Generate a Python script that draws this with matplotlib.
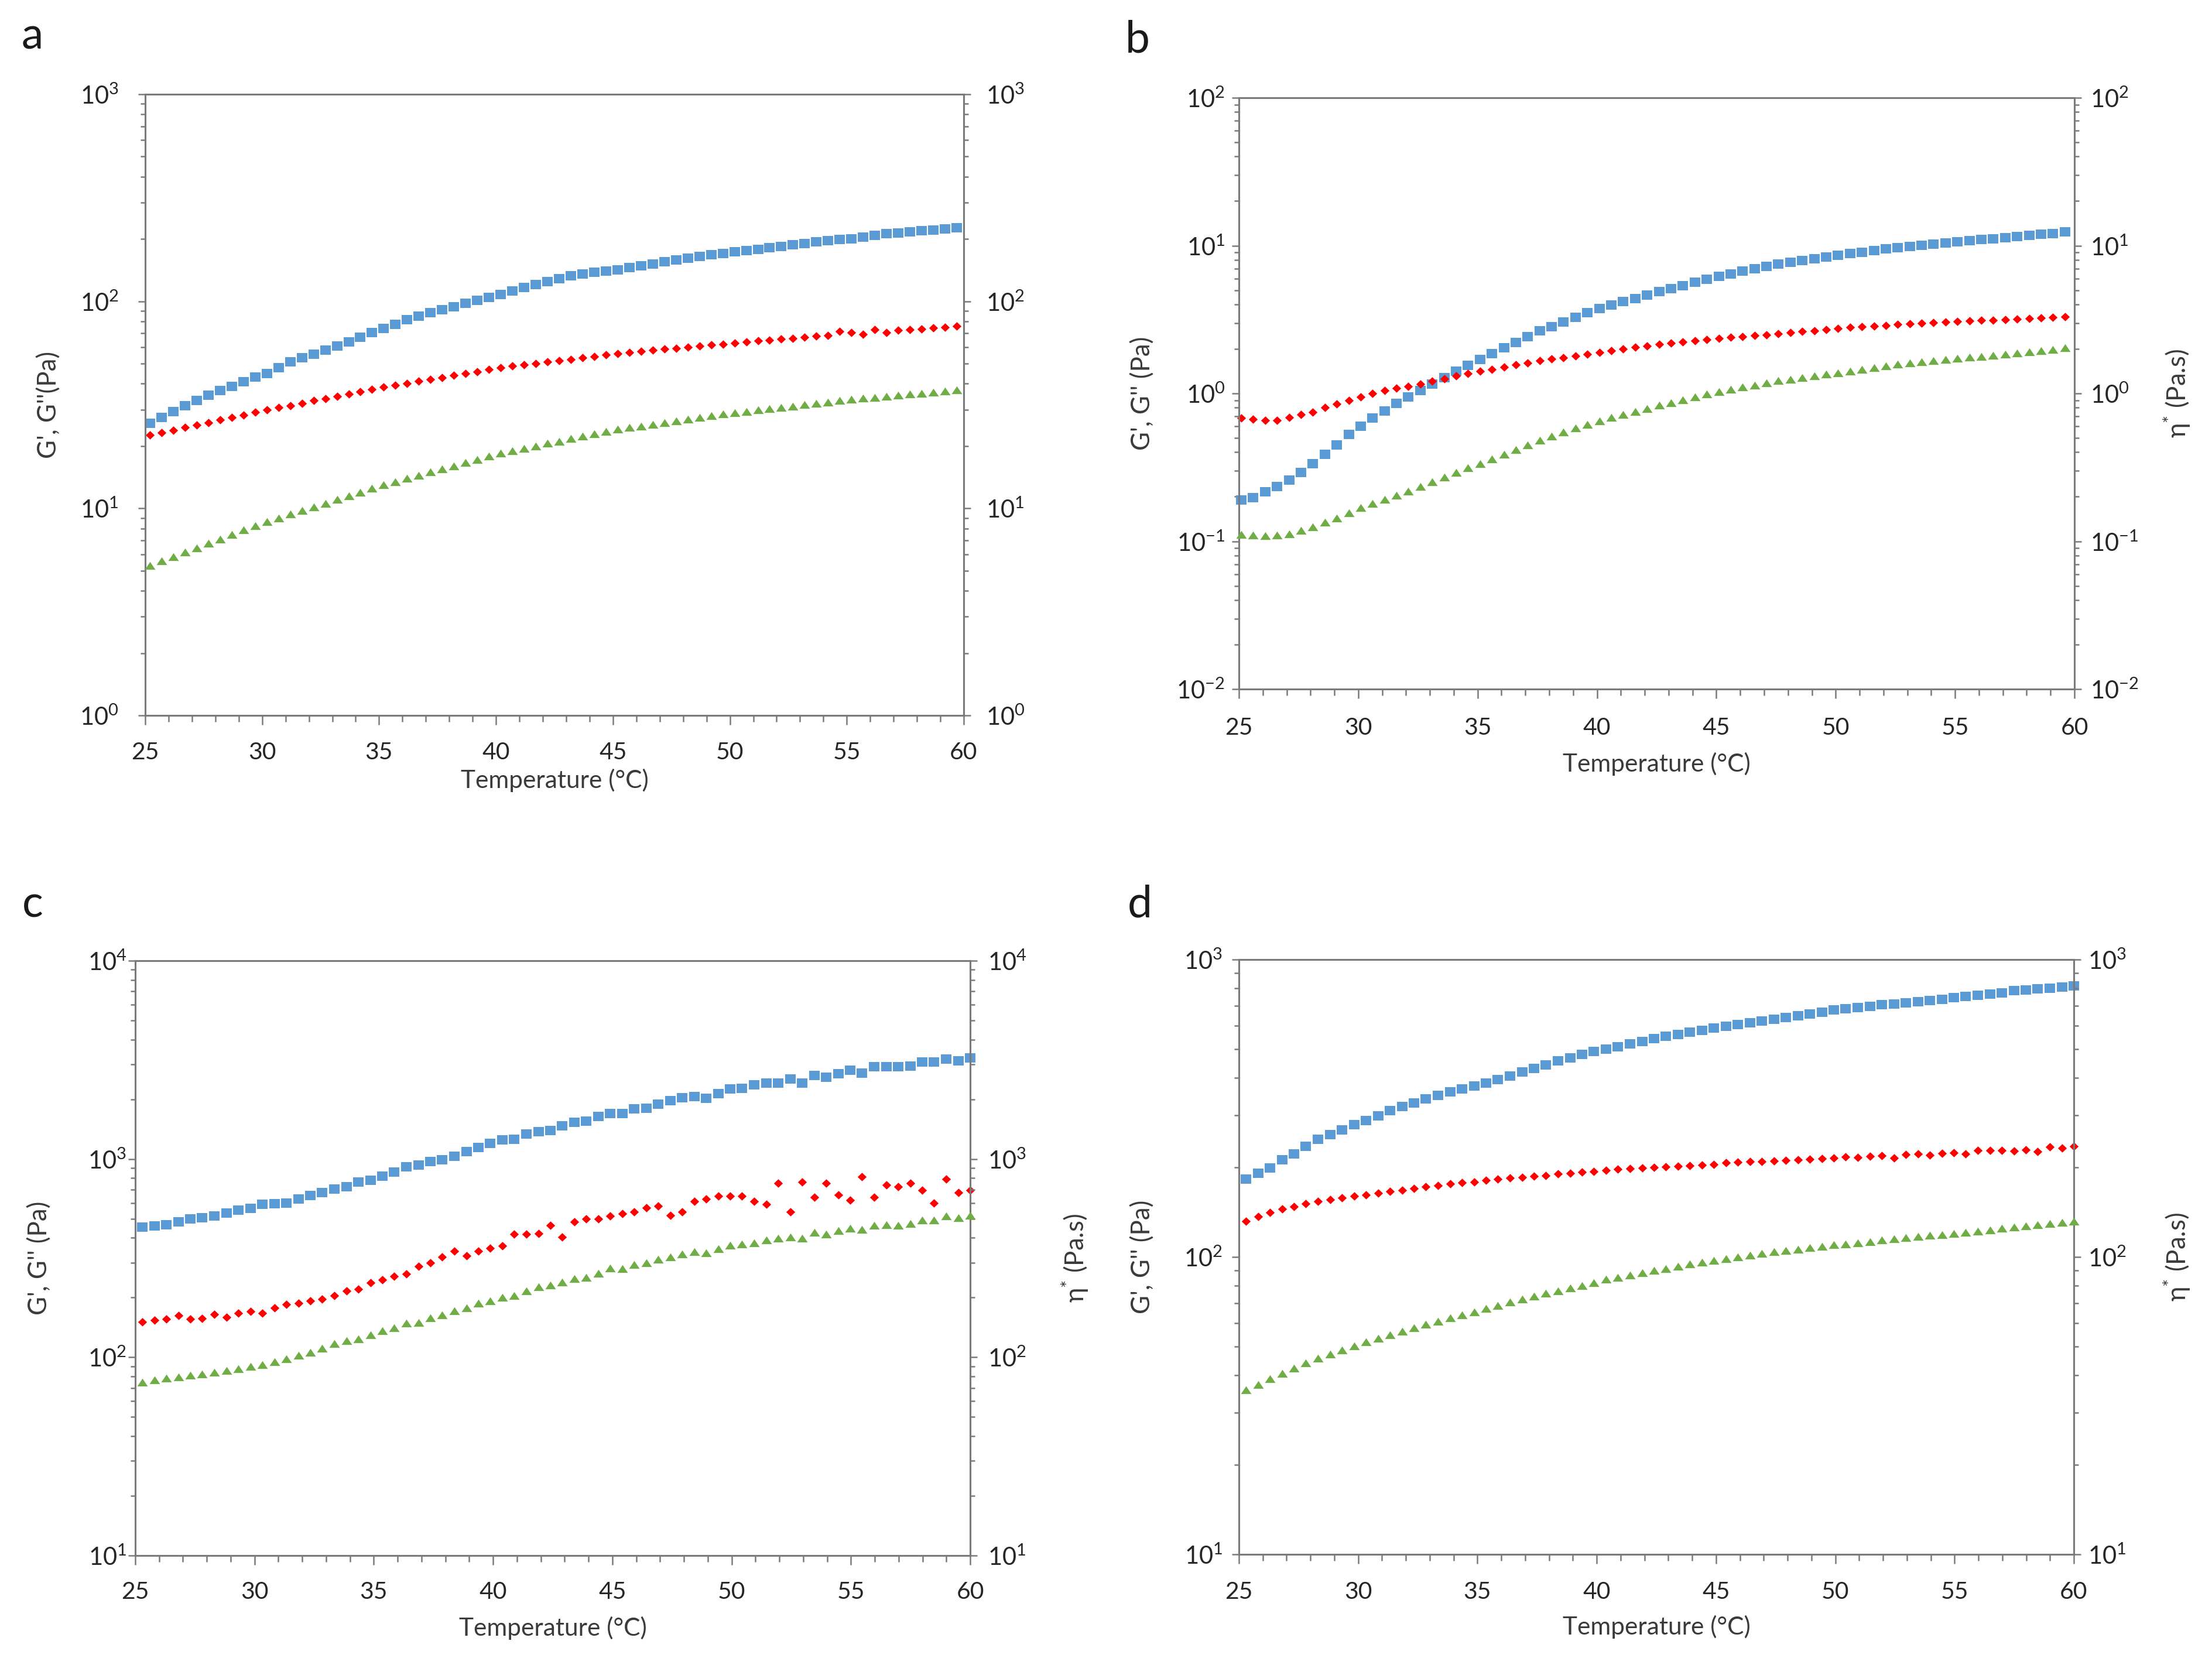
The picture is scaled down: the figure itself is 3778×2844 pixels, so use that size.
import numpy as np
import matplotlib
matplotlib.use("Agg")
import matplotlib.pyplot as plt
from matplotlib.ticker import LogLocator, NullFormatter, MultipleLocator

plt.rcParams['font.family'] = ['Lato', 'DejaVu Sans']
plt.rcParams['mathtext.fontset'] = 'custom'
plt.rcParams['mathtext.rm'] = 'Lato'
plt.rcParams['mathtext.it'] = 'Lato:italic'
plt.rcParams['mathtext.bf'] = 'Lato:bold'

# ---------------- data ----------------
temp_a = np.round(25.2 + 0.5 * np.arange(70), 2)
gp_a = [25.7, 27.5, 29.4, 31.4, 33.2, 35.1, 37.0, 38.9, 40.9, 43.0,
        44.9, 47.9, 50.9, 53.3, 55.7, 58.2, 61.0, 63.8, 67.0, 70.8,
        74.1, 77.6, 81.3, 84.9, 87.9, 91.2, 94.4, 97.7, 100.9, 104.5,
        108.1, 112.2, 116.7, 120.5, 124.5, 128.8, 133.0, 135.5, 138.0, 140.3,
        142.2, 145.5, 148.6, 151.7, 154.9, 158.1, 161.4, 164.4, 167.9, 170.6,
        173.4, 175.8, 178.2, 181.1, 184.1, 187.5, 190.5, 193.6, 196.3, 198.6,
        200.9, 204.2, 208.0, 211.8, 214.3, 216.8, 219.3, 221.3, 223.9, 226.5]
gpp_a = [22.6, 23.2, 23.9, 24.6, 25.3, 26.0, 26.7, 27.5, 28.3, 29.1,
         29.9, 30.7, 31.4, 32.2, 33.1, 33.9, 34.8, 35.7, 36.6, 37.5,
         38.5, 39.3, 40.2, 41.1, 42.0, 42.9, 43.8, 44.8, 45.8, 46.8,
         47.8, 48.6, 49.3, 50.1, 50.9, 51.7, 52.5, 53.4, 54.2, 55.1,
         56.0, 56.7, 57.3, 58.0, 58.7, 59.4, 60.1, 60.8, 61.5, 62.2,
         63.0, 63.7, 64.3, 65.0, 65.7, 66.4, 67.1, 67.8, 68.5, 71.5,
         70.5, 69.5, 73.0, 70.5, 72.4, 73.0, 73.6, 74.3, 75.0, 75.7]
eta_a = [5.30, 5.57, 5.85, 6.14, 6.45, 6.78, 7.12, 7.48, 7.86, 8.25,
         8.62, 8.98, 9.36, 9.75, 10.16, 10.58, 11.03, 11.49, 11.97, 12.47,
         13.0, 13.47, 13.95, 14.45, 14.97, 15.5, 16.06, 16.64, 17.24, 17.86,
         18.5, 19.0, 19.5, 20.0, 20.6, 21.1, 21.7, 22.3, 22.9, 23.5,
         24.1, 24.6, 25.0, 25.5, 26.0, 26.5, 27.0, 27.5, 28.0, 28.5,
         29.0, 29.4, 29.9, 30.3, 30.8, 31.2, 31.7, 32.2, 32.6, 33.1,
         33.6, 34.0, 34.4, 34.8, 35.2, 35.6, 36.0, 36.4, 36.9, 37.4]

temp_b = np.round(25.1 + 0.5 * np.arange(70), 2)
gp_b = [0.191, 0.198, 0.216, 0.234, 0.259, 0.292, 0.336, 0.389, 0.450, 0.530,
        0.600, 0.680, 0.760, 0.860, 0.950, 1.05, 1.16, 1.28, 1.41, 1.55,
        1.70, 1.86, 2.03, 2.22, 2.43, 2.66, 2.84, 3.05, 3.27, 3.51,
        3.76, 3.96, 4.17, 4.39, 4.62, 4.87, 5.11, 5.37, 5.63, 5.91,
        6.21, 6.45, 6.70, 6.96, 7.23, 7.51, 7.72, 7.93, 8.15, 8.38,
        8.61, 8.82, 9.03, 9.25, 9.47, 9.70, 9.87, 10.05, 10.23, 10.41,
        10.60, 10.78, 10.96, 11.14, 11.32, 11.5, 11.7, 11.9, 12.1, 12.4]
gpp_b = [0.68, 0.67, 0.66, 0.66, 0.69, 0.72, 0.75, 0.80, 0.85, 0.90,
         0.95, 1.00, 1.05, 1.09, 1.12, 1.16, 1.21, 1.26, 1.31, 1.36,
         1.41, 1.46, 1.51, 1.56, 1.61, 1.66, 1.71, 1.75, 1.80, 1.84,
         1.89, 1.94, 2.00, 2.05, 2.10, 2.15, 2.19, 2.23, 2.27, 2.31,
         2.35, 2.39, 2.42, 2.46, 2.49, 2.53, 2.57, 2.62, 2.66, 2.71,
         2.75, 2.79, 2.82, 2.86, 2.89, 2.93, 2.96, 2.99, 3.02, 3.05,
         3.08, 3.10, 3.12, 3.14, 3.16, 3.18, 3.21, 3.24, 3.27, 3.31]
eta_b = [0.111, 0.110, 0.109, 0.110, 0.112, 0.118, 0.125, 0.134, 0.144, 0.155,
         0.169, 0.180, 0.192, 0.205, 0.219, 0.235, 0.253, 0.272, 0.292, 0.313,
         0.336, 0.361, 0.387, 0.416, 0.447, 0.480, 0.512, 0.546, 0.582, 0.616,
         0.650, 0.685, 0.719, 0.756, 0.792, 0.830, 0.868, 0.907, 0.947, 0.988,
         1.03, 1.07, 1.11, 1.14, 1.18, 1.22, 1.25, 1.28, 1.31, 1.35,
         1.38, 1.42, 1.46, 1.50, 1.54, 1.58, 1.61, 1.64, 1.67, 1.70,
         1.73, 1.76, 1.78, 1.81, 1.84, 1.87, 1.91, 1.95, 1.99, 2.03]

temp_c = np.round(np.linspace(25.3, 60.0, 70), 2)
gp_c = [454, 460, 467, 483, 500, 506, 515, 535, 551, 563,
        593, 596, 600, 627, 656, 679, 707, 726, 764, 781,
        818, 861, 912, 933, 971, 994, 1032, 1092, 1143, 1197,
        1252, 1259, 1341, 1377, 1396, 1467, 1535, 1553, 1643, 1700,
        1700, 1790, 1807, 1891, 1969, 2037, 2061, 2024, 2133, 2256,
        2265, 2371, 2414, 2414, 2541, 2414, 2643, 2583, 2692, 2799,
        2717, 2912, 2912, 2912, 2947, 3083, 3083, 3186, 3134, 3243]
gpp_c = [151, 154, 156, 162, 156, 157, 165, 159, 167, 170,
         167, 178, 185, 187, 192, 196, 204, 216, 221, 237,
         246, 256, 263, 288, 299, 320, 343, 325, 343, 356,
         364, 417, 417, 422, 464, 404, 481, 500, 499, 515,
         530, 541, 566, 579, 520, 541, 610, 627, 651, 651,
         649, 610, 593, 757, 541, 764, 641, 757, 661, 620,
         815, 641, 740, 723, 757, 695, 600, 793, 676, 695]
eta_c = [75, 77, 78.5, 79.5, 81, 82.5, 84, 86, 87.5, 90,
         92, 95, 98, 102, 106, 111, 117, 121, 124, 130,
         136, 141, 149, 150, 158, 163, 172, 178, 187, 193,
         200, 204, 216, 226, 231, 239, 249, 253, 265, 281,
         280, 294, 300, 313, 321, 332, 341, 337, 352, 368,
         372, 377, 390, 399, 404, 399, 427, 417, 436, 447,
         442, 464, 467, 462, 472, 492, 492, 515, 506, 518]

temp_d = np.round(np.linspace(25.3, 60.0, 70), 2)
gp_d = [183, 191, 199, 212, 222, 236, 249, 258, 268, 278,
        287, 298, 310, 321, 330, 340, 350, 359, 367, 375,
        384, 394, 405, 418, 430, 442, 456, 468, 479, 490,
        500, 510, 520, 531, 542, 551, 561, 570, 579, 588,
        596, 604, 612, 620, 630, 638, 647, 656, 665, 676,
        684, 690, 697, 704, 710, 716, 722, 728, 735, 745,
        752, 758, 764, 772, 785, 790, 796, 802, 808, 815]
gpp_d = [132, 137, 141, 145, 148, 151, 154, 156, 158, 160,
         162, 164, 166, 168, 170, 172, 174, 176, 178, 179,
         181, 183, 184, 185, 187, 188, 190, 191, 193, 194,
         196, 197, 198, 199, 200, 201, 202, 203, 204, 205,
         207, 208, 209, 209, 210, 211, 212, 213, 214, 215,
         217, 216, 218, 219, 215, 221, 222, 220, 223, 224,
         222, 228, 228, 228, 227, 229, 226, 234, 232, 235]
eta_d = [35.7, 37.3, 38.9, 40.6, 42.3, 44.0, 45.6, 47.2, 48.7, 50.2,
         51.8, 53.3, 54.8, 56.3, 57.8, 59.3, 60.8, 62.3, 63.8, 65.4,
         67.0, 68.7, 70.4, 72.0, 73.7, 75.4, 77.0, 78.6, 80.2, 81.9,
         84.0, 85.5, 87.0, 88.5, 90.0, 91.5, 93.0, 94.5, 96.0, 97.5,
         98.8, 100.0, 101.3, 102.6, 104.0, 105.0, 106.2, 107.4, 108.6, 109.8,
         110.5, 111.6, 112.7, 113.8, 114.9, 116.0, 117.0, 118.0, 119.0, 120.0,
         121.0, 122.2, 123.4, 124.6, 126.0, 127.0, 128.2, 129.4, 130.6, 132.0]

x_ticks = [25, 30, 35, 40, 45, 50, 55, 60]
left_labels = ["G', G''(Pa)", "G', G'' (Pa)", "G', G'' (Pa)", "G', G'' (Pa)"]
right_label = r"η$^{*}$ (Pa.s)"
x_label = "Temperature (°C)"
panel_letters = ["a", "b", "c", "d"]

# ---------------- layout (pixels of a 3778 x 2844 canvas) ----------------
W, H = 3778, 2844
fig = plt.figure(figsize=(W / 100, H / 100), dpi=100)
fig.patch.set_facecolor('white')

def fx(x):
    return x / W

def fy(y):
    return 1 - y / H

panels = [
    dict(box=(248, 161, 1646, 1222), ylim=(1, 1e3), T=temp_a, gp=gp_a, gpp=gpp_a, eta=eta_a,
         lpad=24, rpad=19, xpad=21, rlab=False, ylab_x=84, rlab_x=None, xlab_y=1333, letter=(37, 83)),
    dict(box=(2116, 167, 3543, 1177), ylim=(1e-2, 1e2), T=temp_b, gp=gp_b, gpp=gpp_b, eta=eta_b,
         lpad=8.5, rpad=11, xpad=23, rlab=True, ylab_x=1952, rlab_x=3718, xlab_y=1305, letter=(1922, 89)),
    dict(box=(231, 1641, 1657, 2657), ylim=(10, 1e4), T=temp_c, gp=gp_c, gpp=gpp_c, eta=eta_c,
         lpad=2, rpad=13, xpad=20.5, rlab=True, ylab_x=68, rlab_x=1836, xlab_y=2781, letter=(38, 1567)),
    dict(box=(2116, 1639, 3542, 2655), ylim=(10, 1e3), T=temp_d, gp=gp_d, gpp=gpp_d, eta=eta_d,
         lpad=11.5, rpad=8.5, xpad=21.5, rlab=True, ylab_x=1952, rlab_x=3718, xlab_y=2779, letter=(1926, 1567)),
]

SPINE = '#7a7a7a'
TXT = '#262626'
TITLE = '#3a3a3a'
BLUE = '#5B9BD5'
RED = '#FF0000'
GREEN = '#70AD47'
sq = [(-1, -0.82), (1, -0.82), (1, 0.82), (-1, 0.82)]
dia = [(0, -0.95), (1, 0), (0, 0.95), (-1, 0)]
tri = [(-1, -0.74), (1, -0.74), (0, 0.74)]

for k, p in enumerate(panels):
    x0, y0, x1, y1 = p['box']
    ax = fig.add_axes([fx(x0), fy(y1), fx(x1) - fx(x0), (y1 - y0) / H])
    ax.set_yscale('log')
    ax.set_xlim(25, 60)
    ax.set_ylim(*p['ylim'])
    twin = ax.twinx()
    twin.set_yscale('log')
    twin.set_ylim(*p['ylim'])

    ax.plot(p['T'], p['gp'], linestyle='none', marker=sq, ms=13.3, mew=0,
            color=BLUE, clip_on=False, zorder=3)
    ax.plot(p['T'], p['gpp'], linestyle='none', marker=dia, ms=11, mew=0,
            color=RED, clip_on=False, zorder=4)
    twin.plot(p['T'], p['eta'], linestyle='none', marker=tri, ms=13, mew=0,
              color=GREEN, clip_on=False, zorder=3)

    for a in (ax, twin):
        for s in a.spines.values():
            s.set_color(SPINE)
            s.set_linewidth(2.2)
        a.yaxis.set_major_locator(LogLocator(base=10, numticks=20))
        a.yaxis.set_minor_locator(LogLocator(base=10, subs=np.arange(2, 10), numticks=20))
        a.yaxis.set_minor_formatter(NullFormatter())

    ax.xaxis.set_major_locator(plt.FixedLocator(x_ticks))
    ax.xaxis.set_minor_locator(MultipleLocator(1))
    ax.tick_params(axis='x', which='major', direction='out', length=11.5, width=1.8,
                   color=SPINE, labelsize=29.5, labelcolor=TXT, pad=p['xpad'])
    ax.tick_params(axis='x', which='minor', direction='out', length=8, width=1.8, color=SPINE)
    ax.tick_params(axis='y', which='major', direction='out', length=8.6, width=1.8,
                   color=SPINE, labelsize=30, labelcolor=TXT, pad=p['lpad'], right=False)
    ax.tick_params(axis='y', which='minor', direction='out', length=6, width=1.8,
                   color=SPINE, right=False)
    twin.tick_params(axis='y', which='major', direction='out', length=8.6, width=1.8,
                     color=SPINE, labelsize=30, labelcolor=TXT, pad=p['rpad'])
    twin.tick_params(axis='y', which='minor', direction='out', length=6, width=1.8, color=SPINE)

    xc = (x0 + x1) / 2
    yc = (y0 + y1) / 2
    fig.text(fx(xc), fy(p['xlab_y']), x_label, ha='center', va='center',
             fontsize=30.5, color=TITLE)
    fig.text(fx(p['ylab_x']), fy(yc), left_labels[k], ha='center', va='center',
             rotation=90, fontsize=31.5, color=TITLE)
    if p['rlab']:
        fig.text(fx(p['rlab_x']), fy(yc), right_label, ha='center', va='center',
                 rotation=90, fontsize=31.5, color=TITLE)
    lx, ly = p['letter']
    fig.text(fx(lx), fy(ly), panel_letters[k], ha='left', va='baseline',
             fontsize=54, color='#1a1a1a')

fig.savefig('out.png', dpi=100, facecolor='white')
